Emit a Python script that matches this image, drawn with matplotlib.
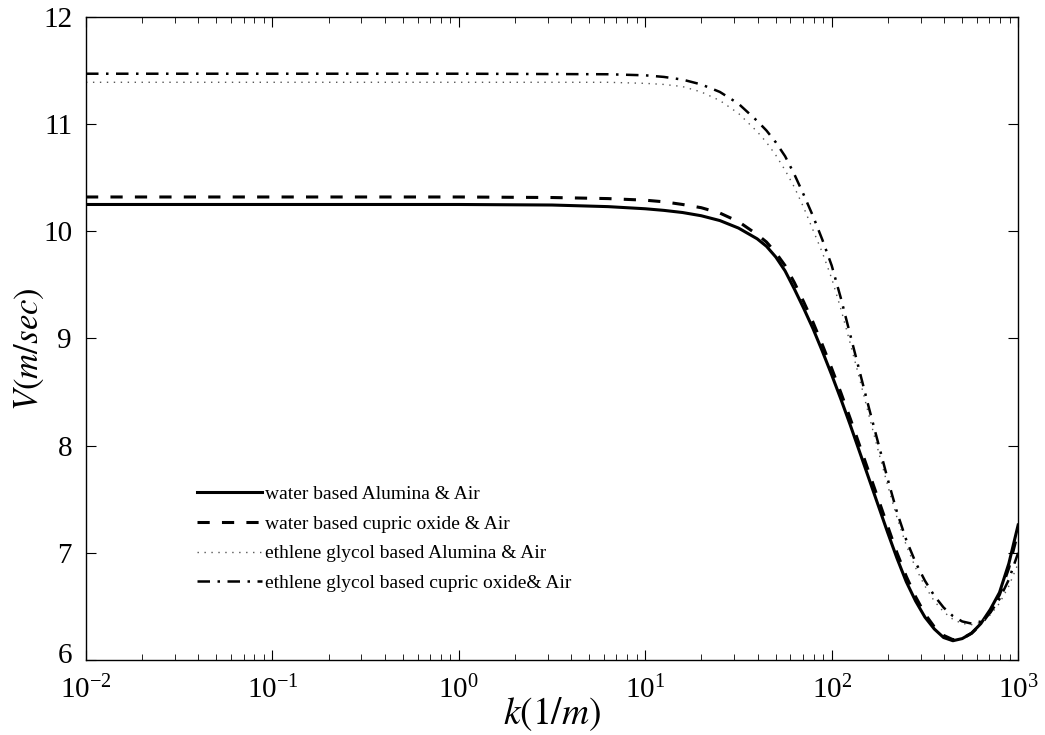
import numpy as np
import matplotlib
matplotlib.use("Agg")
import matplotlib.pyplot as plt
from matplotlib.ticker import LogLocator
from matplotlib.transforms import ScaledTranslation

plt.rcParams['font.family'] = ['Liberation Serif', 'DejaVu Serif']
plt.rcParams['mathtext.fontset'] = 'stix'

lk_wa = [-2, 0, 0.5, 0.8, 1.0, 1.1, 1.2, 1.3, 1.4, 1.5, 1.6, 1.65, 1.7, 1.75, 1.8, 1.85,
         1.9, 1.95, 2.0, 2.05, 2.1, 2.15, 2.2, 2.25, 2.3, 2.35, 2.4, 2.45, 2.5, 2.55,
         2.6, 2.65, 2.7, 2.75, 2.8, 2.85, 2.9, 2.95, 3.0]
v_wa = [10.25, 10.25, 10.245, 10.23, 10.21, 10.195, 10.175, 10.145, 10.10, 10.03, 9.93,
        9.86, 9.76, 9.63, 9.46, 9.28, 9.09, 8.88, 8.66, 8.43, 8.19, 7.94, 7.69, 7.44,
        7.19, 6.95, 6.73, 6.55, 6.40, 6.29, 6.21, 6.18, 6.20, 6.25, 6.34, 6.47, 6.63,
        6.90, 7.26]

lk_wc = [-2, 0, 0.5, 0.8, 1.0, 1.1, 1.2, 1.3, 1.4, 1.5, 1.6, 1.65, 1.7, 1.75, 1.8, 1.85,
         1.9, 1.95, 2.0, 2.05, 2.1, 2.15, 2.2, 2.25, 2.3, 2.35, 2.4, 2.45, 2.5, 2.55,
         2.6, 2.65, 2.7, 2.75, 2.8, 2.85, 2.9, 2.95, 3.0]
v_wc = [10.32, 10.32, 10.315, 10.305, 10.29, 10.275, 10.25, 10.22, 10.17, 10.09, 9.97,
        9.90, 9.80, 9.68, 9.52, 9.34, 9.15, 8.94, 8.72, 8.49, 8.25, 8.00, 7.75, 7.50,
        7.25, 7.00, 6.78, 6.59, 6.43, 6.31, 6.23, 6.19, 6.20, 6.25, 6.33, 6.45, 6.61,
        6.86, 7.20]

lk_ea = [-2, 0, 0.8, 1.0, 1.1, 1.2, 1.3, 1.4, 1.5, 1.6, 1.65, 1.7, 1.75, 1.8, 1.85,
         1.9, 1.95, 2.0, 2.05, 2.1, 2.15, 2.2, 2.25, 2.3, 2.35, 2.4, 2.45, 2.5, 2.55,
         2.6, 2.65, 2.7, 2.75, 2.8, 2.85, 2.9, 2.95, 3.0]
v_ea = [11.39, 11.39, 11.39, 11.38, 11.37, 11.35, 11.30, 11.22, 11.10, 10.93, 10.83,
        10.71, 10.57, 10.41, 10.22, 10.01, 9.80, 9.56, 9.27, 8.95, 8.62, 8.28, 7.95,
        7.63, 7.33, 7.07, 6.86, 6.69, 6.55, 6.45, 6.38, 6.34, 6.33, 6.35, 6.42, 6.53,
        6.69, 6.90]

lk_ec = [-2, 0, 0.8, 1.0, 1.1, 1.2, 1.3, 1.4, 1.5, 1.6, 1.65, 1.7, 1.75, 1.8, 1.85,
         1.9, 1.95, 2.0, 2.05, 2.1, 2.15, 2.2, 2.25, 2.3, 2.35, 2.4, 2.45, 2.5, 2.55,
         2.6, 2.65, 2.7, 2.75, 2.8, 2.85, 2.9, 2.95, 3.0]
v_ec = [11.47, 11.47, 11.465, 11.455, 11.44, 11.415, 11.37, 11.30, 11.19, 11.03, 10.94,
        10.83, 10.70, 10.53, 10.34, 10.14, 9.92, 9.68, 9.37, 9.03, 8.69, 8.35, 8.02,
        7.69, 7.38, 7.12, 6.91, 6.74, 6.60, 6.49, 6.41, 6.36, 6.34, 6.36, 6.44, 6.57,
        6.75, 7.00]

labels = ["water based Alumina & Air",
          "water based cupric oxide & Air",
          "ethlene glycol based Alumina & Air",
          "ethlene glycol based cupric oxide& Air"]

yticks = [6, 7, 8, 9, 10, 11, 12]

fig = plt.figure(figsize=(10.45, 7.35), dpi=100)
ax = fig.add_axes([0.0823, 0.102, 0.892, 0.875])

k = lambda lk: 10.0 ** np.asarray(lk)
ax.plot(k(lk_wa), v_wa, color='black', lw=2.2, ls='-', label=labels[0])
ax.plot(k(lk_wc), v_wc, color='black', lw=2.2, ls=(0, (4, 4)), label=labels[1])
ax.plot(k(lk_ea), v_ea, color='#555555', lw=1.0, ls=(0, (1, 4)), label=labels[2])
ax.plot(k(lk_ec), v_ec, color='black', lw=1.8, ls=(0, (5, 3, 1, 3)), label=labels[3])

ax.set_xscale('log')
ax.set_xlim(1e-2, 1e3)
ax.set_ylim(6, 12)
ax.set_yticks(yticks)
ax.xaxis.set_minor_locator(LogLocator(base=10, subs=np.arange(2, 10), numticks=20))

ax.tick_params(which='both', direction='in', top=True, right=True, labelsize=21)
ax.tick_params(which='major', length=7, width=0.8)
ax.tick_params(which='minor', length=4, width=0.6)
ax.tick_params(axis='x', pad=11)
ax.tick_params(axis='y', pad=10)
for s in ax.spines.values():
    s.set_linewidth(1.0)

ax.set_xlabel(r'$k(1/m)$', fontsize=27)
ax.set_ylabel(r'$V(m/sec)$', fontsize=25)
ax.xaxis.set_label_coords(0.5, -0.055)
ax.yaxis.set_label_coords(-0.043, 0.484)

ax.legend(loc='upper left', bbox_to_anchor=(0.119, 0.2715), frameon=False,
          fontsize=14, handlelength=3.35, handletextpad=0.15, labelspacing=0.62,
          borderpad=0, borderaxespad=0)

fig.canvas.draw()
# lift the lowest y tick label a little, as in the reference
t0 = ax.yaxis.get_major_ticks()[0].label1
t0.set_transform(t0.get_transform() + ScaledTranslation(0, 0.07, fig.dpi_scale_trans))

fig.savefig('out.png', dpi=100)
